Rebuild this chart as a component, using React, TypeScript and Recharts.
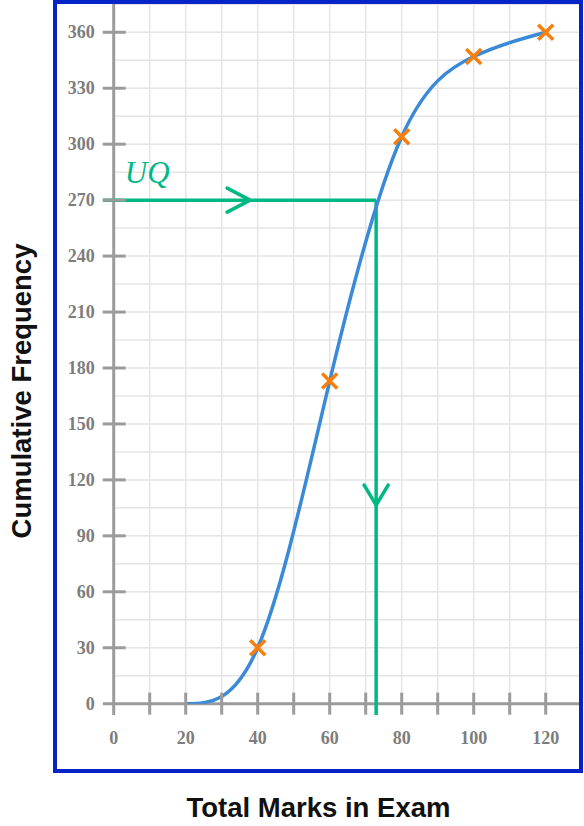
import React from 'react';
import {
  ComposedChart,
  Line,
  Scatter,
  XAxis,
  YAxis,
  CartesianGrid,
  ReferenceLine,
} from 'recharts';

// cumulative frequency curve and plotted points
const marks = [20, 40, 60, 80, 100, 120];
const cumFreq = [0, 30, 173, 304, 347, 360];
const plottedMarks = [40, 60, 80, 100, 120];
const plottedFreq = [30, 173, 304, 347, 360];

// axes
const xTicks = [0, 10, 20, 30, 40, 50, 60, 70, 80, 90, 100, 110, 120, 130];
const xLabels = [0, 20, 40, 60, 80, 100, 120];
const yTicks = [0, 15, 30, 45, 60, 75, 90, 105, 120, 135, 150, 165, 180, 195, 210, 225, 240, 255, 270, 285, 300, 315, 330, 345, 360, 375];
const yLabels = [0, 30, 60, 90, 120, 150, 180, 210, 240, 270, 300, 330, 360];

// upper quartile reading
const uqFreq = 270;
const uqMark = 72.9;
const arrowTips = [
  { x: 37.9, y: 270, dir: 'right' },
  { x: 72.9, y: 106.5, dir: 'down' },
];
const uqText = [{ x: 3.1, y: 279, text: 'UQ' }];

const curveData = marks.map((m, i) => ({ x: m, y: cumFreq[i] }));
const pointData = plottedMarks.map((m, i) => ({ x: m, y: plottedFreq[i] }));

const AXIS = '#9b9b9b';
const GREEN = '#00b884';
const LABEL = '#7d7d7d';

const XTick = (props: any) => {
  const { x, y, payload } = props;
  const v = payload.value;
  return (
    <g>
      {v > 0 && v < 130 && <line x1={x} x2={x} y1={y - 11} y2={y + 11} stroke={AXIS} strokeWidth={3} />}
      {xLabels.includes(v) && (
        <text x={x} y={y + 40} textAnchor="middle" fill={LABEL} fontSize={18} fontWeight="bold" fontFamily="'Liberation Serif', serif">
          {v}
        </text>
      )}
    </g>
  );
};

const YTick = (props: any) => {
  const { x, y, payload } = props;
  const v = payload.value;
  return (
    <g>
      {v > 0 && yLabels.includes(v) && <line x1={x - 11} x2={x + 12} y1={y} y2={y} stroke={AXIS} strokeWidth={3} />}
      {yLabels.includes(v) && (
        <text x={x - 19} y={y + 6} textAnchor="end" fill={LABEL} fontSize={18} fontWeight="bold" fontFamily="'Liberation Serif', serif">
          {v}
        </text>
      )}
    </g>
  );
};

const Cross = (props: any) => {
  const { cx, cy } = props;
  const s = 7.5;
  return (
    <g stroke="#f5800f" strokeWidth={3.5}>
      <line x1={cx - s} y1={cy - s} x2={cx + s} y2={cy + s} />
      <line x1={cx - s} y1={cy + s} x2={cx + s} y2={cy - s} />
    </g>
  );
};

const ArrowHead = (props: any) => {
  const { cx, cy, payload } = props;
  const d = payload.dir === 'right'
    ? `M${cx - 23},${cy - 12} L${cx},${cy} L${cx - 23},${cy + 12}`
    : `M${cx - 12},${cy - 20} L${cx},${cy} L${cx + 12},${cy - 20}`;
  return <path d={d} fill="none" stroke={GREEN} strokeWidth={3.5} strokeLinecap="round" strokeLinejoin="round" />;
};

const UqLabel = (props: any) => (
  <text x={props.cx} y={props.cy} fill={GREEN} fontSize={31} fontStyle="italic" fontFamily="'Liberation Serif', serif">
    {props.payload.text}
  </text>
);

export default function App() {
  return (
    <div style={{ position: 'absolute', left: 0, top: 0, width: 584, height: 826, background: '#fff' }}>
      <ComposedChart width={584} height={826} margin={{ top: 4.3, right: 2.3, left: 53.7, bottom: 92.3 }}>
        <CartesianGrid
          stroke="#e4e4e4"
          strokeWidth={1.5}
          verticalValues={xTicks}
          horizontalValues={yTicks}
        />
        <XAxis
          type="number"
          dataKey="x"
          domain={[0, 130]}
          ticks={xTicks}
          interval={0}
          height={30}
          axisLine={false}
          tickLine={false}
          tickSize={0}
          tickMargin={0}
          tick={<XTick />}
          allowDataOverflow
        />
        <YAxis
          type="number"
          dataKey="y"
          domain={[0, 375]}
          ticks={yTicks}
          interval={0}
          width={60}
          axisLine={false}
          tickLine={false}
          tickSize={0}
          tickMargin={0}
          tick={<YTick />}
          allowDataOverflow
        />
        <ReferenceLine segment={[{ x: 0, y: -6 }, { x: 0, y: 376 }]} stroke={AXIS} strokeWidth={3} ifOverflow="visible" />
        <ReferenceLine segment={[{ x: -3, y: 0 }, { x: 130, y: 0 }]} stroke={AXIS} strokeWidth={3} ifOverflow="visible" />
        <ReferenceLine segment={[{ x: -3, y: uqFreq }, { x: uqMark, y: uqFreq }]} stroke={GREEN} strokeWidth={3.5} ifOverflow="visible" />
        <ReferenceLine segment={[{ x: uqMark, y: uqFreq }, { x: uqMark, y: -6 }]} stroke={GREEN} strokeWidth={3.5} ifOverflow="visible" />
        <Line
          data={curveData}
          dataKey="y"
          type="natural"
          stroke="#3a8ad8"
          strokeWidth={3.5}
          dot={false}
          isAnimationActive={false}
        />
        <Scatter data={pointData} dataKey="y" shape={<Cross />} isAnimationActive={false} />
        <Scatter data={arrowTips} dataKey="y" shape={<ArrowHead />} isAnimationActive={false} />
        <Scatter data={uqText} dataKey="y" shape={<UqLabel />} isAnimationActive={false} />
      </ComposedChart>
      <div
        style={{
          position: 'absolute', left: 53, top: 0, width: 530, height: 773,
          border: '4px solid #0524c8', boxSizing: 'border-box', pointerEvents: 'none',
        }}
      />
      <div
        style={{
          position: 'absolute', left: 0, top: 791, width: 637, textAlign: 'center',
          fontFamily: "'Liberation Sans', Arial, sans-serif", fontWeight: 'bold', fontSize: 27.5, lineHeight: '34px', color: '#111',
        }}
      >
        Total Marks in Exam
      </div>
      <div
        style={{
          position: 'absolute', left: 22, top: 391, width: 0, height: 0,
        }}
      >
        <div
          style={{
            position: 'absolute', left: -200, top: -17, width: 400, textAlign: 'center',
            transform: 'rotate(-90deg)', fontFamily: "'Liberation Sans', Arial, sans-serif",
            fontWeight: 'bold', fontSize: 27.5, lineHeight: '34px', color: '#111',
          }}
        >
          Cumulative Frequency
        </div>
      </div>
    </div>
  );
}
